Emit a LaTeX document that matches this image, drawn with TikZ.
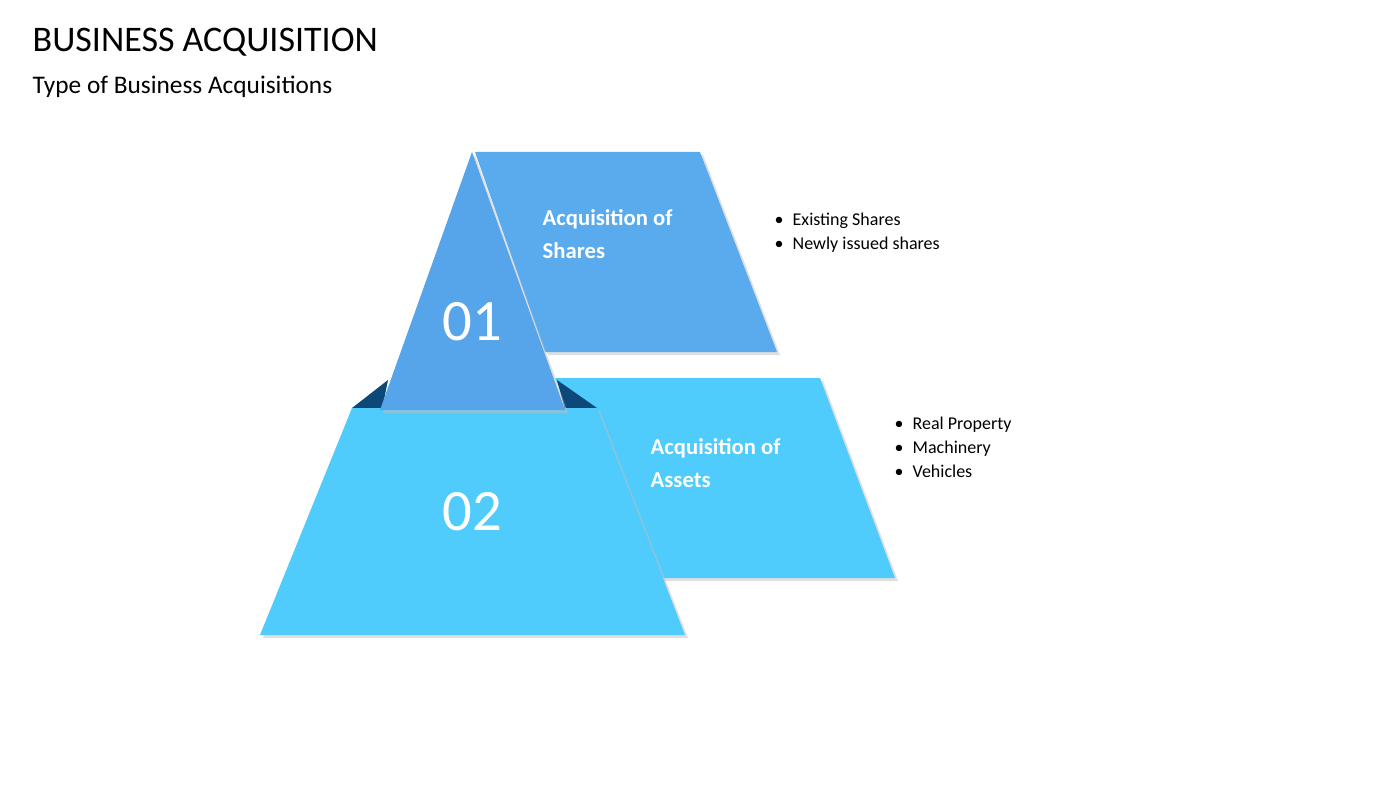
\documentclass[tikz,border=0pt]{standalone}
\usepackage{fontspec}
\setmainfont{Carlito}
\definecolor{SharesBlue}{RGB}{90,170,238}
\definecolor{TriBlue}{RGB}{86,164,234}
\definecolor{AssetsBlue}{RGB}{79,203,252}
\definecolor{FoldNavy}{RGB}{12,72,120}
\begin{document}
\begin{tikzpicture}[x=0.75pt,y=-0.75pt,
  panel/.style={draw=none},
  shade/.style={fill=black!25,opacity=0.5},
  head/.style={anchor=north west,align=left,text=white,font=\bfseries\fontsize{17}{25}\selectfont},
  num/.style={text=white,font=\fontsize{44}{48}\selectfont},
  bullets/.style={anchor=north west,align=left,font=\fontsize{13.5}{18}\selectfont}]
\useasboundingbox (0,0) rectangle (1400,788);
\node[anchor=west,font=\fontsize{27}{30}\selectfont] (title) at (28,42) {BUSINESS ACQUISITION};
\node[anchor=west,font=\fontsize{19}{22}\selectfont] (subtitle) at (28,87) {Type of Business Acquisitions};
% shares panel
\fill[shade] (478,155) -- (703,155) -- (780,355) -- (548,355) -- cycle;
\fill[SharesBlue] (475,152) -- (700,152) -- (777,352) -- (545,352) -- cycle;
% assets panel
\fill[shade] (558,381) -- (823,381) -- (898,581) -- (643,581) -- cycle;
\fill[AssetsBlue] (555,378) -- (820,378) -- (895,578) -- (640,578) -- cycle;
% folds
\fill[FoldNavy] (352,408) -- (388,380) -- (382,410) -- cycle;
\fill[FoldNavy] (597,408) -- (557,380) -- (565,410) -- cycle;
% front shapes
\fill[shade] (355,411) -- (600,411) -- (688,638) -- (263,638) -- cycle;
\fill[AssetsBlue] (352,408) -- (597,408) -- (685,635) -- (260,635) -- cycle;
\fill[shade] (475,155) -- (568,413) -- (383,413) -- cycle;
\fill[TriBlue] (472,152) -- (565,410) -- (380,410) -- cycle;
\node[head] (shares) at (538,205) {Acquisition of\\Shares};
\node[head] (assets) at (646,434) {Acquisition of\\Assets};
\node[num] (n01) at (472,322) {01};
\node[num] (n02) at (472,512) {02};
\node[bullets] (sharelist) at (770,208) {\textbullet\enspace Existing Shares\\\textbullet\enspace Newly issued shares};
\node[bullets] (assetlist) at (890,412) {\textbullet\enspace Real Property\\\textbullet\enspace Machinery\\\textbullet\enspace Vehicles};
\end{tikzpicture}
\end{document}
